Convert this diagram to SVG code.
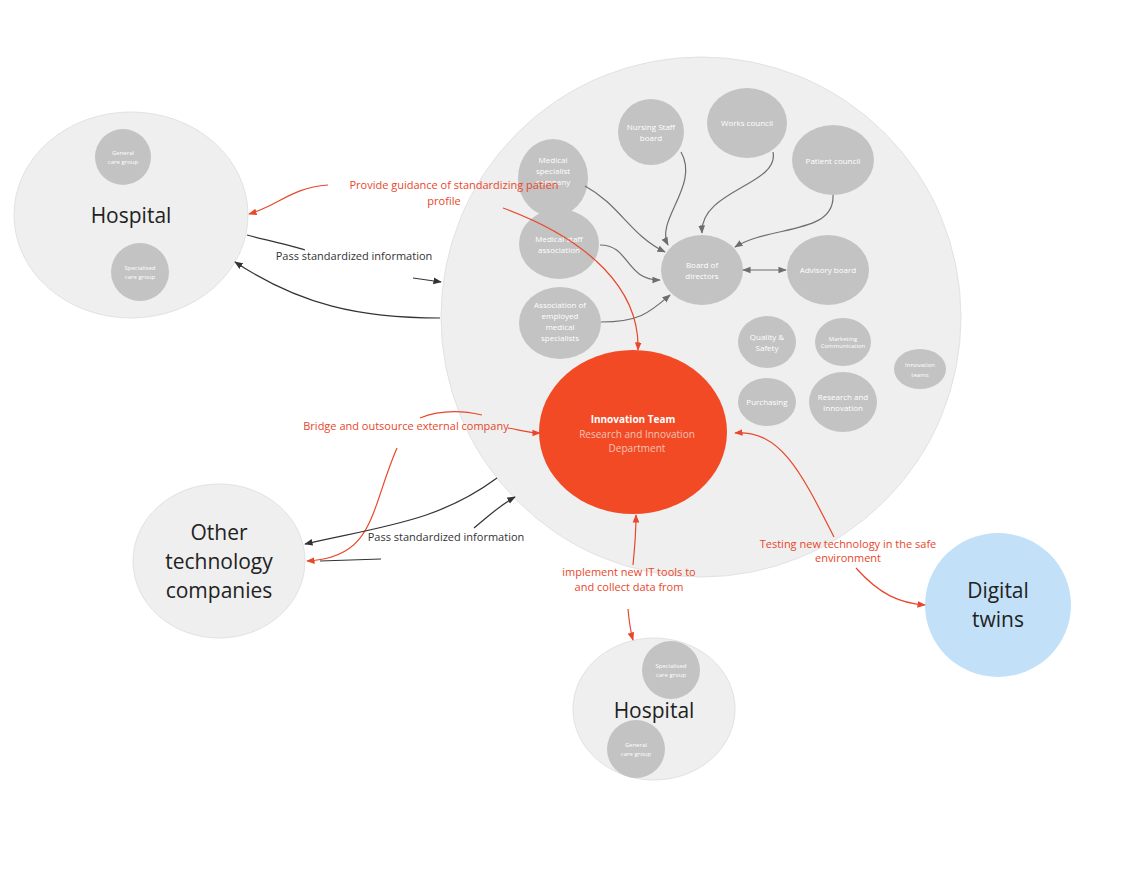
<svg xmlns="http://www.w3.org/2000/svg" width="1135" height="880" viewBox="0 0 1135 880">
<style>
text{font-family:"Open Sans","Noto Sans",sans-serif;text-anchor:middle}
.big{fill:#efefef;stroke:#e2e2e2;stroke-width:1}
.sm{fill:#c3c3c3}
.st{fill:#fff;font-size:8px}
.xs{fill:#fff;font-size:6px}
.lg{fill:#222;font-size:21px}
.red{fill:none;stroke:#e8472b;stroke-width:1.2}
.blk{fill:none;stroke:#333;stroke-width:1.2}
.gry{fill:none;stroke:#6e6e6e;stroke-width:1.2}
.rl{fill:#e8472b;font-size:11px}
.bl{fill:#333;font-size:11px}
</style>
<defs>
<marker id="ar" viewBox="0 0 10 10" refX="9" refY="5" markerWidth="7" markerHeight="7" orient="auto-start-reverse"><path d="M0,1 L10,5 L0,9 z" fill="#e8472b"/></marker>
<marker id="ab" viewBox="0 0 10 10" refX="9" refY="5" markerWidth="7" markerHeight="7" orient="auto-start-reverse"><path d="M0,1 L10,5 L0,9 z" fill="#333"/></marker>
<marker id="ag" viewBox="0 0 10 10" refX="9" refY="5" markerWidth="7" markerHeight="7" orient="auto-start-reverse"><path d="M0,1 L10,5 L0,9 z" fill="#6e6e6e"/></marker>
</defs>
<rect width="1135" height="880" fill="#fff"/>
<g id="org"><circle class="big" cx="701" cy="317" r="260"/></g>
<g id="hospital-left"><ellipse class="big" cx="131" cy="215" rx="117" ry="103"/>
<text class="lg" x="131" y="223">Hospital</text>
<circle class="sm" cx="123" cy="157" r="28"/><text class="xs" x="123" y="155">General</text><text class="xs" x="123" y="164">care group</text>
<circle class="sm" cx="140" cy="272" r="29"/><text class="xs" x="140" y="270">Specialised</text><text class="xs" x="140" y="279">care group</text></g>
<g id="other-tech"><ellipse class="big" cx="219" cy="561" rx="86" ry="77"/>
<text class="lg" x="219" y="540">Other</text><text class="lg" x="219" y="569">technology</text><text class="lg" x="219" y="598">companies</text></g>
<g id="hospital-bottom"><ellipse class="big" cx="654" cy="709" rx="81" ry="71"/>
<text class="lg" x="654" y="718">Hospital</text>
<circle class="sm" cx="671" cy="670" r="29"/><text class="xs" x="671" y="668">Specialised</text><text class="xs" x="671" y="677">care group</text>
<circle class="sm" cx="636" cy="749" r="29"/><text class="xs" x="636" y="747">General</text><text class="xs" x="636" y="756">care group</text></g>
<g id="digital-twins"><ellipse cx="998" cy="605" rx="73" ry="72" fill="#c2e1f8"/>
<text class="lg" x="998" y="598">Digital</text><text class="lg" x="998" y="627">twins</text></g>
<g id="innovation-team"><ellipse cx="633" cy="432" rx="94" ry="82" fill="#f24a25"/>
<text x="633" y="423" fill="#fff" font-size="10" font-weight="bold">Innovation Team</text>
<text x="637" y="438" fill="#f7c2b5" font-size="10">Research and Innovation</text>
<text x="637" y="452" fill="#f7c2b5" font-size="10">Department</text></g>
<g id="med-spec"><ellipse class="sm" cx="553" cy="178" rx="35" ry="39"/><text class="st" x="553" y="163">Medical</text><text class="st" x="553" y="174">specialist</text><text class="st" x="553" y="185">company</text></g>
<g id="nursing"><circle class="sm" cx="651" cy="132" r="33"/><text class="st" x="651" y="130">Nursing Staff</text><text class="st" x="651" y="141">board</text></g>
<g id="works"><ellipse class="sm" cx="747" cy="123" rx="40" ry="35"/><text class="st" x="747" y="126">Works council</text></g>
<g id="patient"><ellipse class="sm" cx="833" cy="160" rx="41" ry="35"/><text class="st" x="833" y="164">Patient council</text></g>
<g id="med-staff"><ellipse class="sm" cx="559" cy="244" rx="40" ry="35"/><text class="st" x="559" y="242">Medical staff</text><text class="st" x="559" y="253">association</text></g>
<g id="board"><ellipse class="sm" cx="702" cy="270" rx="41" ry="35"/><text class="st" x="702" y="268">Board of</text><text class="st" x="702" y="279">directors</text></g>
<g id="advisory"><ellipse class="sm" cx="828" cy="270" rx="41" ry="35"/><text class="st" x="828" y="273">Advisory board</text></g>
<g id="assoc"><ellipse class="sm" cx="560" cy="323" rx="41" ry="36"/><text class="st" x="560" y="308">Association of</text><text class="st" x="560" y="319">employed</text><text class="st" x="560" y="330">medical</text><text class="st" x="560" y="341">specialists</text></g>
<g id="quality"><ellipse class="sm" cx="767" cy="342" rx="29" ry="26"/><text class="st" x="767" y="340">Quality &amp;</text><text class="st" x="767" y="351">Safety</text></g>
<g id="marketing"><ellipse class="sm" cx="843" cy="342" rx="28" ry="24"/><text class="xs" x="843" y="341" font-size="5">Marketing</text><text class="xs" x="843" y="348" font-size="5">Communication</text></g>
<g id="inno-teams"><ellipse class="sm" cx="920" cy="369" rx="26" ry="20"/><text class="xs" x="920" y="367">Innovation</text><text class="xs" x="920" y="377">teams</text></g>
<g id="purchasing"><ellipse class="sm" cx="767" cy="402" rx="29" ry="24"/><text class="st" x="767" y="405">Purchasing</text></g>
<g id="research"><ellipse class="sm" cx="843" cy="402" rx="34" ry="30"/><text class="st" x="843" y="400">Research and</text><text class="st" x="843" y="411">Innovation</text></g>
<g id="connectors">
<path class="gry" marker-end="url(#ag)" d="M585,186 C620,205 630,235 665,252"/>
<path class="gry" marker-end="url(#ag)" d="M681,152 C700,185 655,220 668,245"/>
<path class="gry" marker-end="url(#ag)" d="M773,152 C780,185 700,190 702,233"/>
<path class="gry" marker-end="url(#ag)" d="M833,195 C835,235 770,225 735,247"/>
<path class="gry" marker-end="url(#ag)" d="M600,245 C630,245 625,280 660,280"/>
<path class="gry" marker-end="url(#ag)" d="M601,322 C640,322 650,312 670,295"/>
<path class="gry" marker-start="url(#ag)" marker-end="url(#ag)" d="M743,270 L786,270"/>
<path class="red" marker-end="url(#ar)" d="M328,185 C290,188 280,205 249,214"/>
<path class="red" marker-end="url(#ar)" d="M503,208 C590,240 640,290 638,350"/>
<path class="blk" d="M247,235 C265,240 290,245 305,250"/>
<path class="blk" marker-end="url(#ab)" d="M413,278 L441,282"/>
<path class="blk" marker-end="url(#ab)" d="M440,318 C360,318 300,305 235,262"/>
<path class="red" d="M420,418 C440,410 460,410 482,415"/>
<path class="red" marker-end="url(#ar)" d="M508,428 C520,430 530,433 540,433"/>
<path class="red" marker-end="url(#ar)" d="M397,448 C370,510 375,558 307,561"/>
<path class="blk" marker-end="url(#ab)" d="M497,478 C440,520 390,525 305,544"/>
<path class="blk" marker-end="url(#ab)" d="M474,528 C490,515 500,505 515,497"/>
<path class="blk" d="M381,559 L320,561"/>
<path class="red" marker-end="url(#ar)" d="M633,565 C635,545 636,530 636,515"/>
<path class="red" marker-end="url(#ar)" d="M628,609 C629,620 630,630 633,640"/>
<path class="red" marker-end="url(#ar)" d="M834,537 C800,470 780,430 735,433"/>
<path class="red" marker-end="url(#ar)" d="M856,568 C880,595 900,603 925,605"/>
</g>
<g id="labels">
<text class="rl" x="454" y="189">Provide guidance of standardizing patien</text>
<text class="rl" x="444" y="205">profile</text>
<text class="bl" x="354" y="260">Pass standardized information</text>
<text class="rl" x="406" y="430">Bridge and outsource external company</text>
<text class="bl" x="446" y="541">Pass standardized information</text>
<text class="rl" x="629" y="576">implement new IT tools to</text>
<text class="rl" x="629" y="591">and collect data from</text>
<text class="rl" x="848" y="548">Testing new technology in the safe</text>
<text class="rl" x="848" y="562">environment</text>
</g>
</svg>
